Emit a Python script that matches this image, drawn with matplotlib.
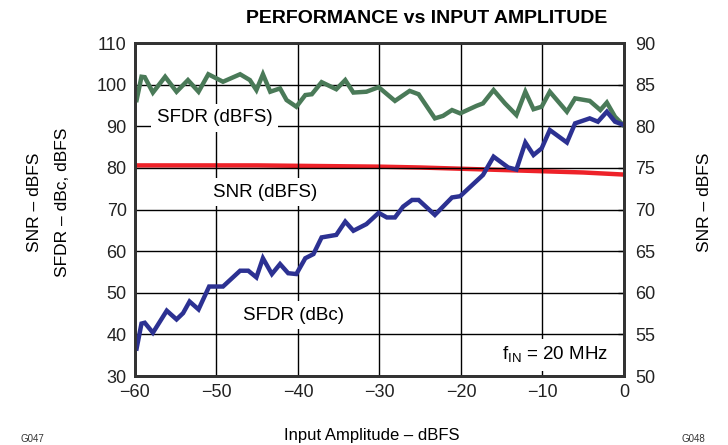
import numpy as np
import matplotlib
matplotlib.use("Agg")
import matplotlib.pyplot as plt

plt.rcParams['font.family'] = ['Liberation Sans', 'DejaVu Sans']

# input amplitude (dBFS) and measured curves
sfdr_dbfs_x = [-59.8, -59.2, -58.8, -57.8, -56.3, -54.9, -53.5, -52.2, -51.0, -49.2,
               -47.1, -45.9, -45.1, -44.3, -43.4, -42.2, -41.4, -40.2, -39.1, -38.3,
               -37.1, -35.3, -34.2, -33.2, -31.6, -30.1, -28.1, -26.3, -25.2, -23.2,
               -22.2, -21.1, -20.1, -18.1, -17.3, -16.0, -14.6, -13.2, -12.1, -11.1,
               -10.1, -9.1, -7.0, -6.0, -4.2, -2.9, -2.1, -1.1, 0.0]
sfdr_dbfs = [96.3, 101.9, 101.8, 98.1, 101.9, 98.3, 101.1, 98.3, 102.5, 100.7,
             102.5, 101.1, 98.7, 102.5, 98.3, 99.1, 96.3, 94.7, 97.5, 97.7,
             100.6, 98.9, 101.1, 98.1, 98.3, 99.4, 96.1, 98.5, 97.7, 91.9,
             92.5, 93.9, 93.1, 94.9, 95.5, 98.7, 95.5, 92.7, 98.3, 94.1,
             94.7, 98.3, 93.5, 96.7, 96.1, 93.9, 95.7, 92.3, 90.1]

sfdr_dbc_x = [-59.8, -59.2, -58.8, -57.8, -56.1, -54.9, -54.1, -53.3, -52.2, -50.9,
              -49.2, -47.1, -46.1, -45.1, -44.3, -43.2, -42.2, -41.2, -40.2, -39.1,
              -38.1, -37.1, -35.3, -34.2, -33.2, -31.6, -30.1, -29.1, -28.1, -27.1,
              -26.0, -25.2, -23.2, -21.1, -20.1, -17.3, -16.0, -14.2, -13.2, -12.1,
              -11.1, -10.1, -9.1, -7.0, -6.0, -4.2, -3.2, -2.1, -1.1, 0.0]
sfdr_dbc = [36.6, 42.6, 42.8, 40.4, 45.7, 43.6, 45.1, 47.9, 46.0, 51.5,
            51.5, 55.3, 55.3, 53.7, 58.3, 54.5, 56.9, 54.7, 54.5, 58.3,
            59.3, 63.3, 63.9, 67.1, 64.9, 66.5, 69.2, 68.1, 68.1, 70.7,
            72.3, 72.3, 68.7, 72.9, 73.2, 78.3, 82.7, 80.1, 79.6, 86.1,
            83.1, 84.7, 89.1, 86.1, 90.7, 91.9, 91.1, 93.5, 91.1, 90.3]

snr_x = [-60, -55, -50, -45, -40, -35, -30, -25, -20, -15, -10, -5, 0]
snr = [75.3, 75.3, 75.3, 75.3, 75.25, 75.2, 75.15, 75.05, 74.9, 74.75, 74.6, 74.45, 74.2]

x_ticks = [-60, -50, -40, -30, -20, -10, 0]
left_ticks = [30, 40, 50, 60, 70, 80, 90, 100, 110]
right_ticks = [50, 55, 60, 65, 70, 75, 80, 85, 90]

green = '#4a7a58'
red = '#ee2229'
blue = '#2c3192'
edge = '#333333'

fig = plt.figure(figsize=(7.28, 4.45), dpi=100)
ax = fig.add_axes([0.1854, 0.155, 0.6717, 0.7483])
ax2 = ax.twinx()

# SNR goes on the right-hand scale, drawn underneath the SFDR curves
ax2.plot(snr_x, snr, color=red, lw=3.2, solid_capstyle='butt')
ax2.set_ylim(50, 90)
ax2.set_yticks(right_ticks)

ax.set_zorder(ax2.get_zorder() + 1)
ax.patch.set_visible(False)

ax.plot(sfdr_dbfs_x, sfdr_dbfs, color=green, lw=3.2, solid_joinstyle='miter')
ax.plot(sfdr_dbc_x, sfdr_dbc, color=blue, lw=3.2, solid_joinstyle='miter')

ax.set_xlim(-60, 0)
ax.set_ylim(30, 110)
ax.set_xticks(x_ticks)
ax.set_xticklabels(['\u2212%d' % -v if v < 0 else '0' for v in x_ticks])
ax.set_yticks(left_ticks)
ax.grid(True, color='black', lw=1.0)

for a in (ax, ax2):
    for s in a.spines.values():
        s.set_color(edge)
        s.set_linewidth(2)
    a.tick_params(labelsize=13, length=0, pad=6, colors='#222222')
ax2.tick_params(axis='y', direction='in', length=4, width=1, pad=8, color=edge)

box = dict(facecolor='white', edgecolor='none', pad=4)
ax.text(-50.2, 92.0, 'SFDR (dBFS)', fontsize=13.5, ha='center', va='center', bbox=box)
ax.text(-44.0, 74.2, 'SNR (dBFS)', fontsize=13.5, ha='center', va='center', bbox=box)
ax.text(-40.5, 44.6, 'SFDR (dBc)', fontsize=13.5, ha='center', va='center', bbox=box)
ax.text(-8.4, 35.0, r'f$_{\mathregular{IN}}$ = 20 MHz', fontsize=13.5, ha='center',
        va='center', bbox=box)

fig.text(0.586, 0.958, 'PERFORMANCE vs INPUT AMPLITUDE', fontsize=14,
         fontweight='bold', ha='center', va='center')
fig.text(0.511, 0.022, 'Input Amplitude \u2013 dBFS', fontsize=12, ha='center',
         va='center')
fig.text(0.048, 0.545, 'SNR \u2013 dBFS', fontsize=12.5, rotation=90, ha='center',
         va='center')
fig.text(0.086, 0.545, 'SFDR \u2013 dBc, dBFS', fontsize=12.5, rotation=90,
         ha='center', va='center')
fig.text(0.968, 0.545, 'SNR \u2013 dBFS', fontsize=12.5, rotation=90, ha='center',
         va='center')

# graph numbers in the bottom corners
fig.text(0.045, 0.003, 'G047', fontsize=7, ha='center', va='bottom', color='#333333')
fig.text(0.952, 0.003, 'G048', fontsize=7, ha='center', va='bottom', color='#333333')

fig.savefig('out.png', dpi=100)
